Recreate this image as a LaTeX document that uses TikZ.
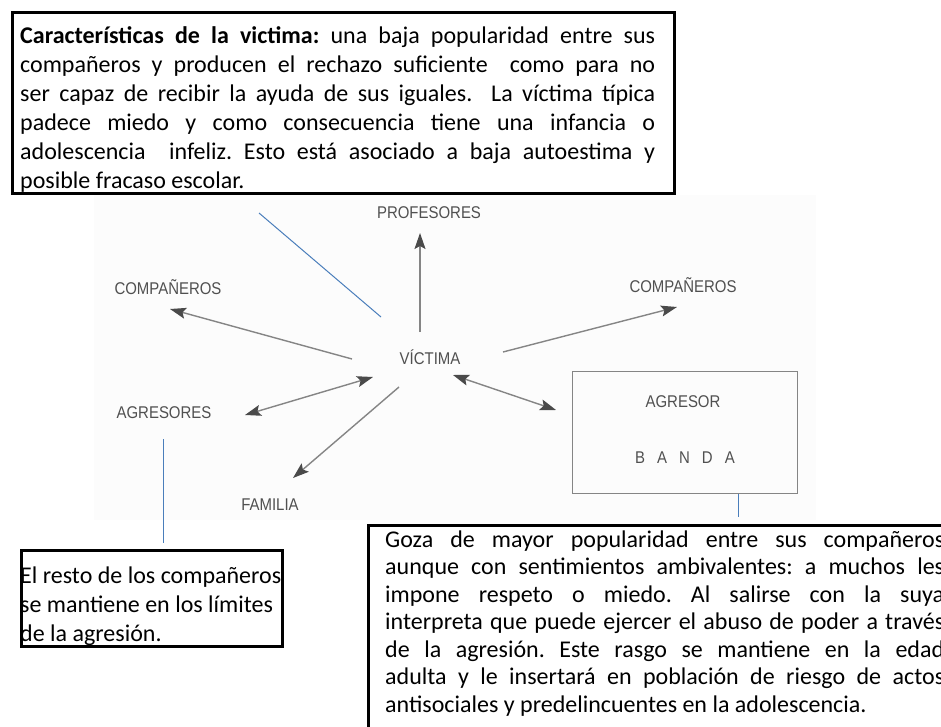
\documentclass[tikz,border=0pt]{standalone}
\usepackage{fontspec}
\setmainfont{Carlito}
\newfontfamily\diagfont[FakeStretch=0.88]{Liberation Sans}
\usetikzlibrary{arrows.meta}
\frenchspacing
\definecolor{labgray}{HTML}{505050}
\definecolor{linegray}{HTML}{858585}
\definecolor{tipgray}{HTML}{4A4A4A}
\definecolor{noteblue}{HTML}{4A7EBB}
\definecolor{photobg}{HTML}{FCFCFC}
\tikzset{
  lab/.style={font=\diagfont\fontsize{17}{20}\selectfont, text=labgray, inner sep=0pt},
  arr/.style={draw=linegray, line width=1.4pt, -{Stealth[length=16pt,width=11pt,inset=3pt,color=tipgray]}},
  darr/.style={draw=linegray, line width=1.4pt, {Stealth[length=16pt,width=11pt,inset=3pt,color=tipgray]}-{Stealth[length=16pt,width=11pt,inset=3pt,color=tipgray]}},
  note/.style={draw=noteblue, line width=1pt},
  notebox/.style={draw=black, line width=2.6pt, inner sep=0pt, anchor=north west},
  notetext/.style={inner sep=0pt, anchor=base west, font=\fontsize{24}{29}\selectfont}
}
\begin{document}
\begin{tikzpicture}[x=1pt,y=-1pt]
\useasboundingbox (0,0) rectangle (941,727);
\fill[white] (0,0) rectangle (941,727);
% photo background
\fill[photobg] (94,195) rectangle (816,520);

% top note box
\node[notebox, minimum width=662pt, minimum height=181pt] (topbox) at (11,11) {};
\node[notetext] (toptext) at (20,44) {\parbox[t]{635pt}{\fontsize{24}{29}\selectfont
\makebox[635pt][s]{\textbf{Características de la victima:} una baja popularidad entre sus}\\
\makebox[635pt][s]{compañeros y producen el rechazo suficiente\ \ como para no}\\
\makebox[635pt][s]{ser capaz de recibir la ayuda de sus iguales.\ \ La víctima típica}\\
\makebox[635pt][s]{padece miedo y como consecuencia tiene una infancia o}\\
\makebox[635pt][s]{adolescencia\ \ infeliz. Esto está asociado a baja autoestima y}\\
posible fracaso escolar.}};

% bottom-left note box
\node[notebox, minimum width=261pt, minimum height=96pt] (leftbox) at (20,549) {};
\node[notetext] (lefttext) at (20,583) {\parbox[t]{270pt}{\fontsize{24}{29}\selectfont
El resto de los compañeros\\
se mantiene en los límites\\
de la agresión.}};

% bottom-right note box (runs past the page edge)
\node[notebox, minimum width=600pt, minimum height=230pt] (rightbox) at (367,524) {};
\node[notetext] (righttext) at (385,547) {\parbox[t]{559pt}{\fontsize{24}{27.5}\selectfont
\makebox[559pt][s]{Goza de mayor popularidad entre sus compañeros}\\
\makebox[559pt][s]{aunque con sentimientos ambivalentes: a muchos les}\\
\makebox[559pt][s]{impone respeto o miedo. Al salirse con la suya}\\
\makebox[559pt][s]{interpreta que puede ejercer el abuso de poder a través}\\
\makebox[559pt][s]{de la agresión. Este rasgo se mantiene en la edad}\\
\makebox[559pt][s]{adulta y le insertará en población de riesgo de actos}\\
antisociales y predelincuentes en la adolescencia.}};

% diagram labels
\node[lab] (prof) at (429,213) {PROFESORES};
\node[lab] (compL) at (168,287) {COMPAÑEROS};
\node[lab] (compR) at (683,285) {COMPAÑEROS};
\node[lab] (vict) at (430,357) {VÍCTIMA};
\node[lab] (agrs) at (164,413) {AGRESORES};
\node[lab] (fam) at (270,505) {FAMILIA};
\node[draw=linegray, line width=1.2pt, minimum width=225pt, minimum height=122pt, inner sep=0pt, anchor=north west] (agbox) at (572,371) {};
\node[lab] (agr) at (683,402) {AGRESOR};
\node[lab] (banda) at (685,458) {B\hspace{12pt}A\hspace{12pt}N\hspace{12pt}D\hspace{12pt}A};

% arrow end points
\coordinate (vU) at (420,332); \coordinate (pU) at (420,233);
\coordinate (vL) at (352,359); \coordinate (cL) at (170,309);
\coordinate (vR) at (503,352); \coordinate (cR) at (677,307);
\coordinate (vA1) at (373,377); \coordinate (aA) at (245,415);
\coordinate (vF) at (399,387); \coordinate (fF) at (293,478);
\coordinate (vB) at (453,375); \coordinate (bB) at (556,410);

\draw[arr] (vU) -- (pU);
\draw[arr] (vL) -- (cL);
\draw[arr] (vR) -- (cR);
\draw[darr] (aA) -- (vA1);
\draw[arr] (vF) -- (fF);
\draw[darr] (vB) -- (bB);

% blue note lines
\coordinate (n1a) at (259,213); \coordinate (n1b) at (381,317);
\draw[note] (n1a) -- (n1b);
\coordinate (n2a) at (163,439); \coordinate (n2b) at (163,543);
\draw[note] (n2a) -- (n2b);
\coordinate (n3b) at (738,517);
\draw[note] (agbox.south -| n3b) -- (n3b);
\end{tikzpicture}
\end{document}
